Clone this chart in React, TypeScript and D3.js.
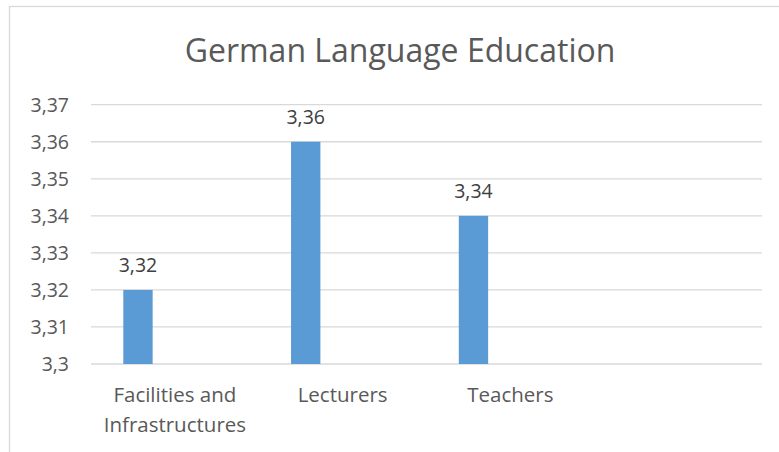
import React from "react";
import * as d3 from "d3";

const title = "German Language Education";
const categories = ["Facilities and Infrastructures", "Lecturers", "Teachers", ""];
const values = [3.32, 3.36, 3.34, null];
const yTicks = [3.3, 3.31, 3.32, 3.33, 3.34, 3.35, 3.36, 3.37];

const W = 779;
const H = 452;
const FONT = "'Open Sans', 'Noto Sans', sans-serif";

function fmt(v: number) {
  return d3.format(".2~f")(v).replace(".", ",");
}

function wrap(label: string, maxChars: number) {
  const words = label.split(" ");
  const lines: string[] = [];
  let cur = "";
  for (const w of words) {
    const next = cur ? cur + " " + w : w;
    if (next.length > maxChars && cur) {
      lines.push(cur);
      cur = w;
    } else cur = next;
  }
  if (cur) lines.push(cur);
  return lines;
}

export default function App() {
  const plot = { left: 91, right: 762, top: 104.7, bottom: 364 };
  const x = d3.scaleBand<string>().domain(categories.map((c, i) => String(i))).range([plot.left, plot.right]).padding(0);
  const y = d3.scaleLinear().domain([3.3, 3.37]).range([plot.bottom, plot.top]);
  const bw = x.bandwidth();
  const barOffset = bw * 0.1925;
  const barW = bw * 0.175;

  return (
    <svg width={W} height={H} style={{ position: "absolute", left: 0, top: 0, background: "#fff" }} fontFamily={FONT}>
      <rect x={0} y={0} width={W} height={H} fill="#fff" />
      <rect x={9.5} y={6.5} width={W + 20} height={H + 20} fill="#fff" stroke="#d9d9d9" strokeWidth={1.3} />
      <text x={400} y={62} textAnchor="middle" fontSize={32} fill="#595959">{title}</text>
      {yTicks.map((t) => (
        <g key={t}>
          <line x1={plot.left} x2={plot.right} y1={y(t)} y2={y(t)} stroke="#d9d9d9" strokeWidth={1.3} />
          <text x={69} y={y(t)} dy="0.35em" textAnchor="end" fontSize={19.5} fill="#595959">{fmt(t)}</text>
        </g>
      ))}
      {values.map((v, i) =>
        v == null ? null : (
          <g key={i}>
            <rect x={(x(String(i)) as number) + barOffset} y={y(v)} width={barW} height={y(3.3) - y(v)} fill="#5b9bd5" />
            <text x={(x(String(i)) as number) + barOffset + barW / 2} y={y(v) - 18} textAnchor="middle" fontSize={19.5} fill="#404040">{fmt(v)}</text>
          </g>
        )
      )}
      {categories.map((c, i) => {
        const lines = wrap(c, 15);
        const cx = (x(String(i)) as number) + bw / 2;
        return (
          <text key={i} x={cx} y={402} textAnchor="middle" fontSize={20.5} fill="#595959">
            {lines.map((l, j) => (
              <tspan key={j} x={cx} dy={j === 0 ? 0 : 29.5}>{l}</tspan>
            ))}
          </text>
        );
      })}
    </svg>
  );
}
